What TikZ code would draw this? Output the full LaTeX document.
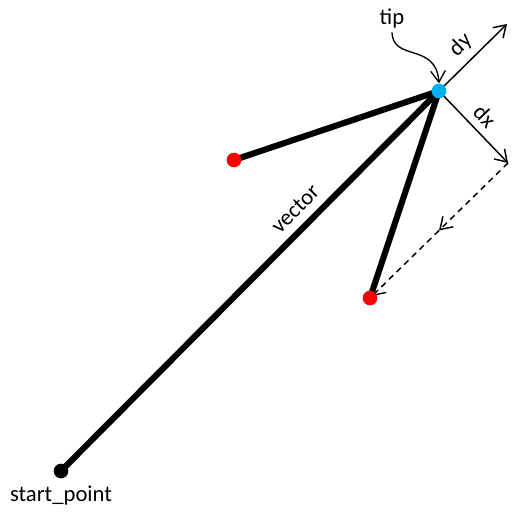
\documentclass[tikz,border=0pt]{standalone}
\usepackage{fontspec}
\setmainfont{Carlito}
\usetikzlibrary{arrows.meta,calc}
\definecolor{tipblue}{HTML}{00B0F0}

\begin{document}
\begin{tikzpicture}[x=0.75pt,y=-0.75pt,>={Straight Barb[length=8.5pt,width=11pt]},
  font=\fontsize{17}{20}\selectfont,
  vec/.style={line width=4.6pt},
  thin arrow/.style={->,line width=1.1pt},
  dot/.style={circle,inner sep=0pt,minimum size=11pt}]
\useasboundingbox (0,0) rectangle (519,518);
\coordinate (s) at (61,471); \coordinate (t) at (439,91);
\coordinate (r1) at (234,160); \coordinate (r2) at (370,298);
\coordinate (dy) at (507,24); \coordinate (dx) at (508,163);
\coordinate (m) at ($(dx)!0.5!(r2)$);
\draw[vec] (s)--(t) node[pos=0.655,sloped,above=3pt]{vector};
\draw[vec] (r1)--(t); \draw[vec] (r2)--(t);
\draw[thin arrow] (t)--(dy) node[midway,sloped,above=2pt]{dy};
\draw[thin arrow] (t)--(dx) node[midway,sloped,above=2pt]{dx};
\draw[thin arrow,dash pattern=on 4.5pt off 3.5pt] (dx)--(m);
\draw[thin arrow,dash pattern=on 4.5pt off 3.5pt,shorten >=2pt] (m)--(r2);
\node[dot,fill=black] (S) at (s) {}; \node at (S)[below=8pt]{start\_point};
\node[dot,fill=red] (R1) at (r1) {}; \node[dot,fill=red] (R2) at (r2) {};
\node[dot,fill=tipblue] (T) at (t) {};
\node (tiplbl) at (392,18) {tip};
\draw[thin arrow,line width=1pt] (tiplbl.south) .. controls (393,62) and (436,42) .. (T.north);
\end{tikzpicture}
\end{document}
